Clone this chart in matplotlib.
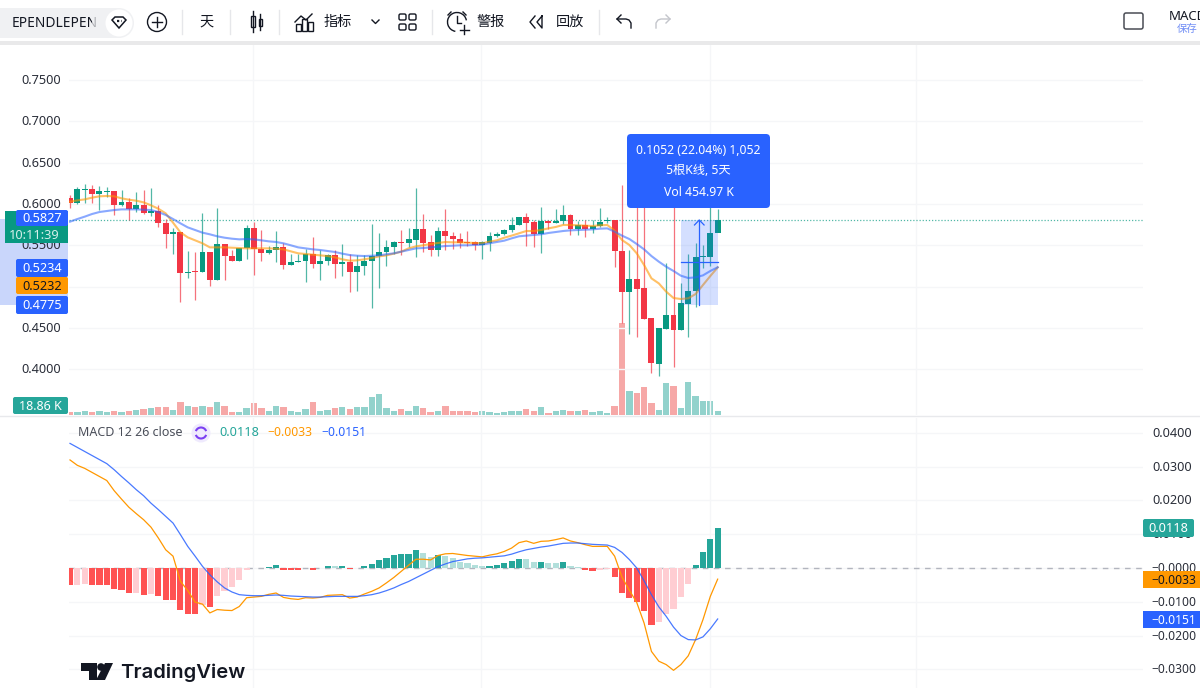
import numpy as np
import matplotlib
matplotlib.use('Agg')
import matplotlib.pyplot as plt
from matplotlib.patches import Rectangle, FancyBboxPatch, Circle, Polygon, Arc

plt.rcParams['font.family'] = ['Noto Sans', 'Noto Sans CJK SC', 'DejaVu Sans']

UP = '#089981'
DOWN = '#f23645'
BLUE = '#2962ff'
ORANGE = '#ff9800'
TEAL = '#26a69a'
GRID = '#f5f6f8'
TXT = '#2a2e39'

opens = [.6069, .6008, .6170, .6178, .6120, .6145, .6157, .5988, .6024, .5935, .5990, .5887, .5920, .5766, .5633,
         .5657, .5160, .5190, .5173, .5415, .5080, .5516, .5370, .5314, .5470, .5705, .5450, .5410, .5443, .5475,
         .5266, .5300, .5310, .5395, .5274, .5310, .5380, .5274, .5300, .5177, .5250, .5314, .5370, .5423, .5475,
         .5536, .5524, .5564, .5697, .5536, .5443, .5677, .5617, .5576, .5536, .5536, .5508, .5530, .5613, .5633,
         .5685, .5746, .5847, .5778, .5640, .5798, .5766, .5798, .5867, .5697, .5746, .5693, .5734, .5794, .5806,
         .5435, .4930, .5092, .4979, .4616, .4063, .4487, .4656, .4475, .4790, .4950, .5354, .5362, .5645]
closes = [.6008, .6178, .6178, .6120, .6157, .6157, .5988, .6024, .5935, .5990, .5887, .5920, .5766, .5633, .5657,
          .5160, .5180, .5173, .5415, .5080, .5516, .5370, .5314, .5470, .5705, .5450, .5410, .5443, .5475, .5266,
          .5300, .5314, .5395, .5274, .5314, .5380, .5274, .5300, .5177, .5250, .5314, .5370, .5423, .5475, .5536,
          .5532, .5572, .5697, .5530, .5443, .5677, .5617, .5576, .5530, .5530, .5508, .5540, .5617, .5637, .5685,
          .5746, .5847, .5774, .5640, .5798, .5766, .5798, .5867, .5697, .5746, .5693, .5734, .5786, .5806, .5431,
          .4930, .5092, .4970, .4608, .4071, .4495, .4656, .4475, .4797, .4950, .5354, .5370, .5645, .5806]
highs = [.6110, .6210, .6240, .6230, .6218, .6210, .6157, .6170, .6070, .6150, .6170, .6190, .5988, .5814, .5705,
         .5657, .5435, .5420, .5890, .5415, .5955, .5516, .5440, .5470, .5746, .5786, .5690, .5490, .5677, .5530,
         .5400, .5400, .5450, .5596, .5440, .5400, .5440, .5516, .5400, .5380, .5380, .5758, .5645, .5570, .5556,
         .5685, .5705, .6190, .5875, .5625, .5718, .5940, .5657, .5653, .5677, .5548, .5556, .5665, .5665, .5693,
         .5839, .5847, .5887, .5806, .5960, .5806, .5935, .5988, .5880, .5800, .5806, .5806, .5955, .5839, .5806,
         .6230, .5443, .6100, .6100, .4616, .4495, .5290, .6100, .5040, .5400, .5524, .5504, .6100, .5939]
lows = [.5950, .6000, .6008, .6010, .5927, .6090, .5867, .5980, .5806, .5907, .5875, .5855, .5726, .5470, .5400,
        .4810, .5110, .4838, .5173, .5010, .5080, .5080, .5314, .5314, .5334, .5140, .5314, .5395, .5300, .5213,
        .5266, .5300, .5060, .5220, .5080, .5260, .5110, .5130, .4940, .4950, .5140, .4737, .4980, .5250, .5400,
        .5383, .5475, .5362, .5423, .5370, .5375, .5443, .5455, .5463, .5490, .5443, .5330, .5435, .5596, .5625,
        .5657, .5746, .5490, .5483, .5403, .5697, .5766, .5758, .5625, .5625, .5605, .5645, .5726, .5766, .5233,
        .4555, .4426, .4394, .4608, .3950, .3922, .4487, .4030, .4475, .4386, .4750, .5220, .5250, .5798]
volumes = [11.6, 14.5, 16, 11.6, 18.9, 11.6, 16, 11.6, 18.9, 21.8, 26, 30.5, 33.4, 33.4, 21.8,
           55, 39, 33.4, 40.6, 33.4, 55, 40.6, 11.6, 14.5, 30.5, 52, 30.5, 16, 40.6, 33.4,
           16, 11.6, 26, 55, 17.4, 23, 30.5, 33.4, 26, 33.4, 33.4, 77, 91, 30.5, 16,
           26, 18.9, 40.6, 30.5, 14.5, 18.9, 37.7, 18.9, 16, 16, 11.6, 18.9, 14.5, 8.7, 11.6,
           16, 16, 26, 16, 33.4, 8.7, 18.9, 21.8, 16, 16, 21.8, 11.6, 18.9, 8.7, 40.6,
           402, 103, 96, 120, 52, 23, 139, 125, 30.5, 144, 81, 62, 62, 18.86]
ma_orange = [.6028, .6044, .6056, .6077, .6093, .6097, .6093, .6069, .6052, .6040, .6020, .5984, .5943, .5887, .5774,
             .5657, .5596, .5560, .5524, .5475, .5475, .5475, .5471, .5467, .5463, .5463, .5463, .5463, .5459, .5451,
             .5427, .5403, .5395, .5387, .5378, .5370, .5354, .5330, .5314, .5318, .5330, .5346, .5366, .5378, .5399,
             .5423, .5463, .5487, .5500, .5516, .5528, .5540, .5536, .5536, .5532, .5528, .5524, .5544, .5560, .5592,
             .5617, .5645, .5673, .5673, .5685, .5705, .5722, .5746, .5746, .5742, .5738, .5734, .5742, .5746, .5677,
             .5564, .5504, .5403, .5261, .5100, .5039, .4939, .4862, .4850, .4858, .4910, .5019, .5128, .5232]
ma_blue = [.5786, .5818, .5847, .5879, .5903, .5915, .5927, .5935, .5935, .5935, .5931, .5927, .5903, .5867, .5818,
           .5766, .5717, .5685, .5653, .5633, .5609, .5592, .5580, .5572, .5576, .5572, .5560, .5548, .5540, .5524,
           .5500, .5475, .5463, .5451, .5443, .5431, .5419, .5399, .5382, .5374, .5370, .5374, .5378, .5391, .5403,
           .5423, .5443, .5463, .5467, .5475, .5483, .5491, .5495, .5500, .5500, .5504, .5508, .5524, .5540, .5556,
           .5584, .5609, .5617, .5625, .5633, .5649, .5661, .5673, .5681, .5685, .5689, .5693, .5701, .5705, .5665,
           .5617, .5576, .5516, .5451, .5370, .5302, .5241, .5189, .5132, .5104, .5112, .5136, .5189, .5234]

hist = [-.0051, -.0049, -.0046, -.0049, -.0051, -.0051, -.0061, -.0066, -.0074, -.0073, -.0079, -.0076, -.0084, -.0094, -.0096,
        -.0123, -.0135, -.0135, -.0110, -.0115, -.0084, -.0069, -.0056, -.0037, -.0007, -.0001, -.0001, .0004, .0009, -.0005,
        -.0007, -.0007, -.0001, -.0005, -.0001, .0006, .0005, .0006, -.0004, .0001, .0006, .0013, .0024, .0031, .0038,
        .0040, .0042, .0052, .0044, .0033, .0038, .0035, .0030, .0018, .0015, .0010, .0005, .0007, .0010, .0015,
        .0020, .0027, .0027, .0018, .0018, .0015, .0015, .0018, .0007, .0002, -.0007, -.0010, -.0007, -.0004, -.0027,
        -.0074, -.0089, -.0100, -.0126, -.0170, -.0161, -.0135, -.0120, -.0086, -.0046, .0010, .0047, .0087, .0118]
macd_line = [.0320, .0304, .0295, .0283, .0271, .0259, .0229, .0204, .0180, .0161, .0143, .0121, .0089, .0054, .0035,
             -.0039, -.0067, -.0101, -.0107, -.0133, -.0123, -.0125, -.0126, -.0114, -.0088, -.0086, -.0084, -.0078, -.0074, -.0087,
             -.0091, -.0093, -.0088, -.0089, -.0087, -.0081, -.0080, -.0079, -.0089, -.0086, -.0077, -.0069, -.0059, -.0044, -.0028,
             -.0010, .0008, .0026, .0026, .0024, .0037, .0042, .0043, .0040, .0037, .0035, .0033, .0038, .0042, .0049,
             .0059, .0075, .0080, .0073, .0079, .0080, .0084, .0089, .0080, .0075, .0069, .0064, .0064, .0064, .0035,
             -.0027, -.0066, -.0102, -.0163, -.0247, -.0276, -.0286, -.0303, -.0286, -.0260, -.0212, -.0153, -.0084, -.0033]
signal_line = [.0369, .0357, .0345, .0333, .0321, .0309, .0291, .0271, .0252, .0232, .0214, .0192, .0173, .0153, .0133,
               .0099, .0064, .0035, .0005, -.0020, -.0041, -.0059, -.0071, -.0079, -.0081, -.0082, -.0082, -.0081, -.0080, -.0081,
               -.0083, -.0084, -.0085, -.0086, -.0086, -.0085, -.0084, -.0084, -.0084, -.0084, -.0082, -.0079, -.0074, -.0067, -.0059,
               -.0049, -.0040, -.0029, -.0018, -.0007, .0004, .0012, .0019, .0023, .0027, .0029, .0030, .0032, .0034, .0036,
               .0041, .0048, .0054, .0058, .0062, .0065, .0069, .0073, .0074, .0074, .0072, .0070, .0069, .0068, .0061,
               .0046, .0025, .0000, -.0038, -.0079, -.0115, -.0143, -.0175, -.0200, -.0212, -.0213, -.0204, -.0180, -.0151]
hist_light = [1, 2, 9, 11, 18, 20, 21, 22, 23, 24, 25, 36, 48, 49, 51, 52, 53, 54, 55, 56, 62, 63, 65, 66, 68, 69, 72, 73, 80, 81, 82, 83, 84]

price_ticks = [.75, .70, .65, .60, .55, .50, .45, .40]
macd_ticks = [.04, .03, .02, .01, 0, -.01, -.02, -.03]
time_ticks = [24.9, 55.8, 87, 115]
last_price_line = .5806
sel_start = 83
sel_end = 88
sel_low = .4775
sel_high = .5806
sel_mid = .5294

W, H = 1200, 688
fig = plt.figure(figsize=(12, 6.88), dpi=100, facecolor='white')


def pane(x0, y0, x1, y1):
    return fig.add_axes([x0 / W, 1 - y1 / H, (x1 - x0) / W, (y1 - y0) / H])


idx = np.arange(len(opens))
up = np.array(closes) >= np.array(opens)
wick_cols = [UP if u else DOWN for u in up]
px_per_bar = 7.36
xlim = (-1 / px_per_bar, (1143 - 70) / px_per_bar)

# price pane
ax = pane(69, 45, 1143, 415)
ax.set_xlim(*xlim)
ax.set_ylim(.6 - 211 / 826, .6 + 159 / 826)
ax.set_yticks(price_ticks)
ax.set_xticks(time_ticks)
ax.grid(color=GRID, lw=1)
ax.set_axisbelow(True)
ax.tick_params(length=0, labelleft=False, labelbottom=False)
for s in ax.spines.values():
    s.set_visible(False)

vol_ax = ax.twinx()
vol_ax.set_ylim(0, 1610)
vol_ax.axis('off')
vol_cols = [TEAL if u else '#ef5350' for u in up]
vol_ax.bar(idx, volumes, width=.86, color=vol_cols, alpha=.5, zorder=1)
vol_ax.set_zorder(1)
ax.set_zorder(2)
ax.patch.set_visible(False)

ax.vlines(idx, lows, highs, colors=wick_cols, lw=.9, alpha=.7, zorder=3)
body = np.abs(np.array(closes) - np.array(opens))
ax.bar(idx, np.maximum(body, .0012), bottom=np.minimum(opens, closes), width=.8, color=wick_cols, zorder=4)
ax.plot(idx, ma_orange, color=ORANGE, lw=1.5, alpha=.6, zorder=5)
ax.plot(idx, ma_blue, color=BLUE, lw=1.5, alpha=.55, zorder=5)
ax.axhline(last_price_line, color=UP, lw=.9, ls=(0, (1, 1.5)), alpha=.7, zorder=2)

# price range selection
ax.add_patch(Rectangle((sel_start, sel_low), sel_end - sel_start, sel_high - sel_low, color=BLUE, alpha=.2, lw=0, zorder=6))
ax.plot([sel_start, sel_end], [sel_mid, sel_mid], color=BLUE, lw=.9, zorder=7)
mid_x = (sel_start + sel_end) / 2
ax.plot([mid_x, mid_x], [sel_low, sel_high], color=BLUE, lw=.9, zorder=7)
ax.plot([mid_x - .65, mid_x, mid_x + .65], [sel_high - .006, sel_high, sel_high - .006], color=BLUE, lw=.9, zorder=7)

# macd pane
ax2 = pane(69, 418, 1143, 688)
ax2.set_xlim(*xlim)
ax2.set_ylim(-120 / 3377, 150 / 3377)
ax2.set_yticks(macd_ticks)
ax2.set_xticks(time_ticks)
ax2.grid(color=GRID, lw=1)
ax2.set_axisbelow(True)
ax2.tick_params(length=0, labelleft=False, labelbottom=False)
for s in ax2.spines.values():
    s.set_visible(False)
ax2.axhline(0, color='#b2b5be', lw=1, ls=(0, (4, 4)), zorder=1)
hist_cols = []
for i, v in enumerate(hist):
    if v >= 0:
        hist_cols.append('#b2dfdb' if i in hist_light else TEAL)
    else:
        hist_cols.append('#ffcdd2' if i in hist_light else '#ff5252')
ax2.bar(idx, hist, width=.84, color=hist_cols, zorder=2)
ax2.plot(idx, macd_line, color=ORANGE, lw=.9, zorder=3)
ax2.plot(idx, signal_line, color=BLUE, lw=.9, alpha=.85, zorder=3)

# everything around the chart, in pixels
ov = fig.add_axes([0, 0, 1, 1], zorder=10)
ov.set_xlim(0, W)
ov.set_ylim(H, 0)
ov.axis('off')
ov.patch.set_alpha(0)


def tag(x0, y0, x1, y1, col, label, tc='white', fs=9.2):
    ov.add_patch(FancyBboxPatch((x0 + 1, y0 + 1), x1 - x0 - 2, y1 - y0 - 2, boxstyle='round,pad=1,rounding_size=2', fc=col, ec='none', zorder=4))
    ov.text((x0 + x1) / 2, (y0 + y1) / 2 + .5, label, color=tc, fontsize=fs, ha='center', va='center', zorder=5)


def tool_text(x, label):
    ov.text(x, 22.5, label, fontsize=10.2, color='#131722', ha='center', va='center')


# toolbar
ov.add_patch(Rectangle((0, 0), W, 41, fc='white', ec='none'))
ov.add_patch(Rectangle((0, 41), W, 4, fc='#e9e9ea', ec='none'))
ov.add_patch(Rectangle((0, 8), 119, 30, fc='#f0f1f3', ec='none'))
ov.add_patch(Circle((119, 23), 15, fc='#f0f1f3', ec='none'))
ov.text(12, 23.5, 'EPENDLEPEN', fontsize=9.9, fontweight='bold', color='#131722', va='center')
ov.add_patch(Rectangle((92, 8), 14, 30, fc='#f0f1f3', alpha=.7, ec='none', zorder=4))
ov.add_patch(Circle((119, 23), 13.5, fc='white', ec='none', zorder=4))
ov.add_patch(Polygon([[112, 20], [115, 17], [123, 17], [126, 20], [119, 28]], fc='white', ec='#131722', lw=1.1, zorder=5))
ov.plot([116.5, 121.5], [21, 21], color='#131722', lw=1.6, ls=(0, (1, 1)), zorder=5)
ov.add_patch(Circle((157, 22), 9.5, fc='none', ec='#131722', lw=1))
ov.plot([152, 162], [22, 22], color='#131722', lw=1)
ov.plot([157, 157], [17, 27], color='#131722', lw=1)
for sx in [182, 230, 279, 432, 599]:
    ov.plot([sx, sx], [10, 34], color='#e6e7ea', lw=1)
tool_text(206, '天')
# candle icon
ov.add_patch(Rectangle((250.5, 16), 4, 11, fc='white', ec='#131722', lw=1))
ov.plot([252.5, 252.5], [11, 32], color='#131722', lw=1)
ov.add_patch(Rectangle((258.5, 19), 3.5, 7, fc='white', ec='#131722', lw=1))
ov.plot([260, 260], [14, 30], color='#131722', lw=1)
# indicators icon
ov.plot([295, 301, 306, 312], [22, 16, 20, 14], color='#131722', lw=1)
for bx, bh in zip([296, 302, 308], [7, 12, 9]):
    ov.add_patch(Rectangle((bx, 31 - bh), 4.5, bh, fc='white', ec='#131722', lw=1))
tool_text(338, '指标')
ov.plot([372, 375.5, 379], [20, 23.5, 20], color='#131722', lw=1)
for gx, gy in [(399, 14), (409, 14), (399, 24), (409, 24)]:
    ov.add_patch(FancyBboxPatch((gx, gy), 7, 6, boxstyle='round,pad=0,rounding_size=1.5', fc='white', ec='#131722', lw=1))
# alarm
ov.add_patch(Arc((457, 22), 19, 19, theta1=100, theta2=350, ec='#131722', lw=1))
ov.plot([457, 457, 461], [16, 23, 23], color='#131722', lw=1)
ov.plot([448, 451], [15, 12], color='#131722', lw=1)
ov.plot([463, 466], [12, 15], color='#131722', lw=1)
ov.plot([464, 464], [25, 34], color='#131722', lw=1)
ov.plot([459.5, 468.5], [30, 30], color='#131722', lw=1)
tool_text(491, '警报')
ov.plot([535, 530, 535], [16, 22, 28], color='#131722', lw=1)
ov.plot([542, 537, 542, 542], [16, 22, 28, 16], color='#131722', lw=1)
tool_text(570, '回放')
ov.plot([621, 617, 621], [15, 19, 23], color='#131722', lw=1)
ov.plot([617, 626, 629, 631, 631], [19, 19, 20, 23, 28], color='#131722', lw=1)
ov.plot([666, 670, 666], [15, 19, 23], color='#c3c5cb', lw=1)
ov.plot([670, 661, 658, 656, 656], [19, 19, 20, 23, 28], color='#c3c5cb', lw=1)
ov.add_patch(FancyBboxPatch((1124, 13), 19, 16, boxstyle='round,pad=0,rounding_size=2', fc='white', ec='#4a4d55', lw=1.1))
ov.text(1169, 16.5, 'MACD', fontsize=9.5, color='#131722', va='center')
ov.text(1177, 29.5, '保存', fontsize=7.5, color='#6f8cf5', va='center')

# left price scale
ov.add_patch(Rectangle((0, 219), 68, 86, fc='#c9d6fb', ec='none', zorder=1))
for p in price_ticks:
    py = 204 + (.6 - p) * 826
    ov.text(21, py + .5, '%.4f' % p, fontsize=9.2, color=TXT, va='center', zorder=2)
ov.add_patch(Rectangle((5, 211), 63, 32, fc=UP, ec='none', zorder=4))
tag(16, 210, 68, 226, BLUE, '0.5827', 'white')
ov.text(34, 235.5, '10:11:39', color='#d5efea', fontsize=9.2, ha='center', va='center', zorder=5)
tag(16, 259, 68, 277, BLUE, '0.5234', 'white')
tag(16, 277, 68, 294, ORANGE, '0.5232', '#131722')
tag(16, 296, 68, 314, BLUE, '0.4775', 'white')
tag(13, 397, 68, 414, TEAL, '18.86 K', 'white', fs=9)

# tooltip
ov.add_patch(FancyBboxPatch((627, 134), 143, 74, boxstyle='round,pad=0,rounding_size=4', fc=BLUE, ec='none', zorder=4))
ov.text(698.5, 150, '0.1052 (22.04%) 1,052', color='white', fontsize=8.8, ha='center', va='center', zorder=5)
ov.text(698.5, 171, '5根K线, 5天', color='white', fontsize=8.8, ha='center', va='center', zorder=5)
ov.text(698.5, 192, 'Vol 454.97 K', color='white', fontsize=8.8, ha='center', va='center', zorder=5)

# pane divider
ov.plot([0, W], [416, 416], color='#e8e9ec', lw=1)

# macd legend
ov.text(78, 432.5, 'MACD 12 26 close', fontsize=9, color='#4a4e59', va='center')
ov.add_patch(Circle((201, 433), 9.5, fc='#efeafd', ec='none'))
ov.add_patch(Arc((201, 433), 11, 11, theta1=20, theta2=160, ec='#7b3ff2', lw=1.5))
ov.add_patch(Arc((201, 433), 11, 11, theta1=200, theta2=340, ec='#7b3ff2', lw=1.5))
ov.text(219, 432.5, '0.0118', fontsize=9.2, color=TEAL, va='center')
ov.text(267, 432.5, '\u22120.0033', fontsize=8.8, color=ORANGE, va='center')
ov.text(321, 432.5, '\u22120.0151', fontsize=8.8, color=BLUE, va='center')

# right macd scale
for v in macd_ticks:
    my = 568 - v * 3377
    if v > 0:
        ov.text(1152, my + .5, '%.4f' % v, fontsize=9.2, color=TXT, va='center', zorder=2)
    else:
        ov.text(1151, my + .5, '\u2212%.4f' % abs(v), fontsize=8.7, color=TXT, va='center', zorder=2)
tag(1143, 519, 1194, 537, TEAL, '0.0118', 'white', fs=9.2)
ov.add_patch(Rectangle((1143, 571), 57, 17, fc=ORANGE, ec='none', zorder=4))
ov.text(1151, 580, '\u22120.0033', color='#131722', fontsize=8.7, va='center', zorder=5)
ov.add_patch(Rectangle((1143, 611), 57, 17, fc=BLUE, ec='none', zorder=4))
ov.text(1151, 620, '\u22120.0151', color='white', fontsize=8.7, va='center', zorder=5)

# logo
ov.add_patch(Polygon([[81, 663], [97, 663], [97, 680], [89, 680], [89, 671], [81, 671]], fc='#131722', ec='none'))
ov.add_patch(Circle((101, 667), 3.8, fc='#131722', ec='none'))
ov.add_patch(Polygon([[105, 663], [113, 663], [105, 680], [96, 680]], fc='#131722', ec='none'))
ov.text(120, 672.5, 'TradingView', fontsize=14.6, fontweight='semibold', family=['Inter', 'Noto Sans'], color='#131722', va='center')

fig.savefig('out.png', dpi=100)
